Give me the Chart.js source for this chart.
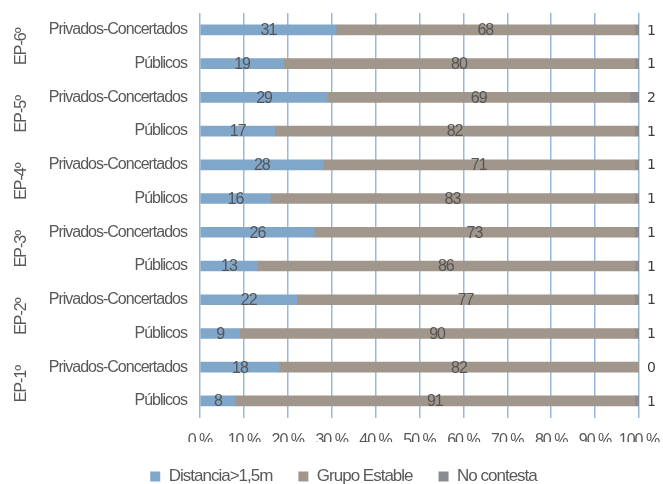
<!DOCTYPE html>
<html lang="es">
<head>
<meta charset="utf-8">
<title>Distancia y grupo estable por curso</title>
<script src="https://cdn.jsdelivr.net/npm/chart.js@4/dist/chart.umd.min.js"></script>
<style>
  html, body { margin: 0; padding: 0; background: #ffffff; }
  #wrap { width: 663px; height: 484px; }
</style>
</head>
<body>
<div id="wrap"><canvas id="chart" width="663" height="484"></canvas></div>
<script>
// Rows run top to bottom: one pair (concertados / públicos) per course
const categories = [
  'Privados-Concertados', 'Públicos',
  'Privados-Concertados', 'Públicos',
  'Privados-Concertados', 'Públicos',
  'Privados-Concertados', 'Públicos',
  'Privados-Concertados', 'Públicos',
  'Privados-Concertados', 'Públicos'
];
const courses = ['EP-6º', 'EP-5º', 'EP-4º', 'EP-3º', 'EP-2º', 'EP-1º'];
const seriesNames = ['Distancia>1,5m', 'Grupo Estable', 'No contesta'];
const distancia   = [31, 19, 29, 17, 28, 16, 26, 13, 22, 9, 18, 8];
const grupoEstable = [68, 80, 69, 82, 71, 83, 73, 86, 77, 90, 82, 91];
const noContesta  = [1, 1, 2, 1, 1, 1, 1, 1, 1, 1, 0, 1];
const percentTicks = [0, 10, 20, 30, 40, 50, 60, 70, 80, 90, 100];

const TEXT = '#595959';
const FONT = '"Liberation Sans", Arial, sans-serif';

// Tight letter spacing for all chart text
const tightText = {
  id: 'tightText',
  beforeLayout(chart) { chart.ctx.letterSpacing = '-1px'; },
  beforeDraw(chart) { chart.ctx.letterSpacing = '-1px'; }
};

// Values printed on the bars; the last series sits right of the axis end
const barValues = {
  id: 'barValues',
  afterDatasetsDraw(chart) {
    const ctx = chart.ctx;
    ctx.save();
    chart.data.datasets.forEach((ds, di) => {
      const meta = chart.getDatasetMeta(di);
      meta.data.forEach((bar, i) => {
        const v = ds.data[i];
        if (di < 2) {
          ctx.letterSpacing = '-1px';
          ctx.font = '16px ' + FONT;
          ctx.fillStyle = '#555555';
          ctx.textAlign = 'center';
          ctx.textBaseline = 'middle';
          ctx.fillText(String(v), (bar.x + bar.base) / 2, bar.y + 1);
        } else {
          ctx.letterSpacing = '0px';
          ctx.font = '14px "DejaVu Sans", sans-serif';
          ctx.fillStyle = '#404040';
          ctx.textAlign = 'left';
          ctx.textBaseline = 'middle';
          ctx.fillText(String(v), bar.x + 8, bar.y + 1);
        }
      });
    });
    ctx.restore();
  }
};

// Rotated course names next to each pair of rows
const courseLabels = {
  id: 'courseLabels',
  afterDraw(chart) {
    const ctx = chart.ctx;
    const y = chart.scales.y;
    ctx.save();
    ctx.letterSpacing = '-1px';
    ctx.font = '16px ' + FONT;
    ctx.fillStyle = TEXT;
    ctx.textAlign = 'center';
    ctx.textBaseline = 'middle';
    courses.forEach((name, g) => {
      const cy = (y.getPixelForValue(2 * g) + y.getPixelForValue(2 * g + 1)) / 2;
      ctx.save();
      ctx.translate(22, cy);
      ctx.rotate(-Math.PI / 2);
      ctx.fillText(name, 0, 0);
      ctx.restore();
    });
    ctx.restore();
  }
};

new Chart(document.getElementById('chart'), {
  type: 'bar',
  data: {
    labels: categories,
    datasets: [
      { label: seriesNames[0], data: distancia,    backgroundColor: '#80a7ca', borderWidth: 0 },
      { label: seriesNames[1], data: grupoEstable, backgroundColor: '#a1968b', borderWidth: 0 },
      { label: seriesNames[2], data: noContesta,   backgroundColor: '#8b8c90', borderWidth: 0 }
    ]
  },
  options: {
    indexAxis: 'y',
    responsive: false,
    animation: false,
    devicePixelRatio: 1,
    barThickness: 10,
    layout: { padding: { top: 13, right: 24, bottom: -11, left: 48 } },
    scales: {
      x: {
        stacked: true,
        min: 0,
        max: 100,
        afterBuildTicks(scale) { scale.ticks = percentTicks.map(v => ({ value: v })); },
        afterFit(scale) {
          scale.height -= 21;
          scale.paddingLeft = 0;
          scale.paddingRight = 0;
        },
        grid: { color: '#96b9dc', lineWidth: 1.5, drawTicks: false },
        border: { display: false },
        ticks: {
          padding: 13,
          minRotation: 0,
          maxRotation: 0,
          autoSkip: false,
          color: TEXT,
          font: { family: FONT, size: 16 },
          callback: v => v + ' %'
        }
      },
      y: {
        stacked: true,
        grid: { display: false, drawTicks: false },
        border: { display: false },
        afterFit(scale) {
          scale.width = 152;
          scale.paddingTop = 0;
          scale.paddingBottom = 0;
        },
        ticks: {
          padding: 13,
          color: TEXT,
          font: { family: FONT, size: 16 },
          autoSkip: false
        }
      }
    },
    plugins: {
      legend: {
        position: 'bottom',
        labels: {
          boxWidth: 10,
          boxHeight: 10,
          padding: 26,
          color: TEXT,
          font: { family: FONT, size: 17 }
        }
      },
      tooltip: { enabled: false }
    }
  },
  plugins: [tightText, barValues, courseLabels]
});
</script>
</body>
</html>
